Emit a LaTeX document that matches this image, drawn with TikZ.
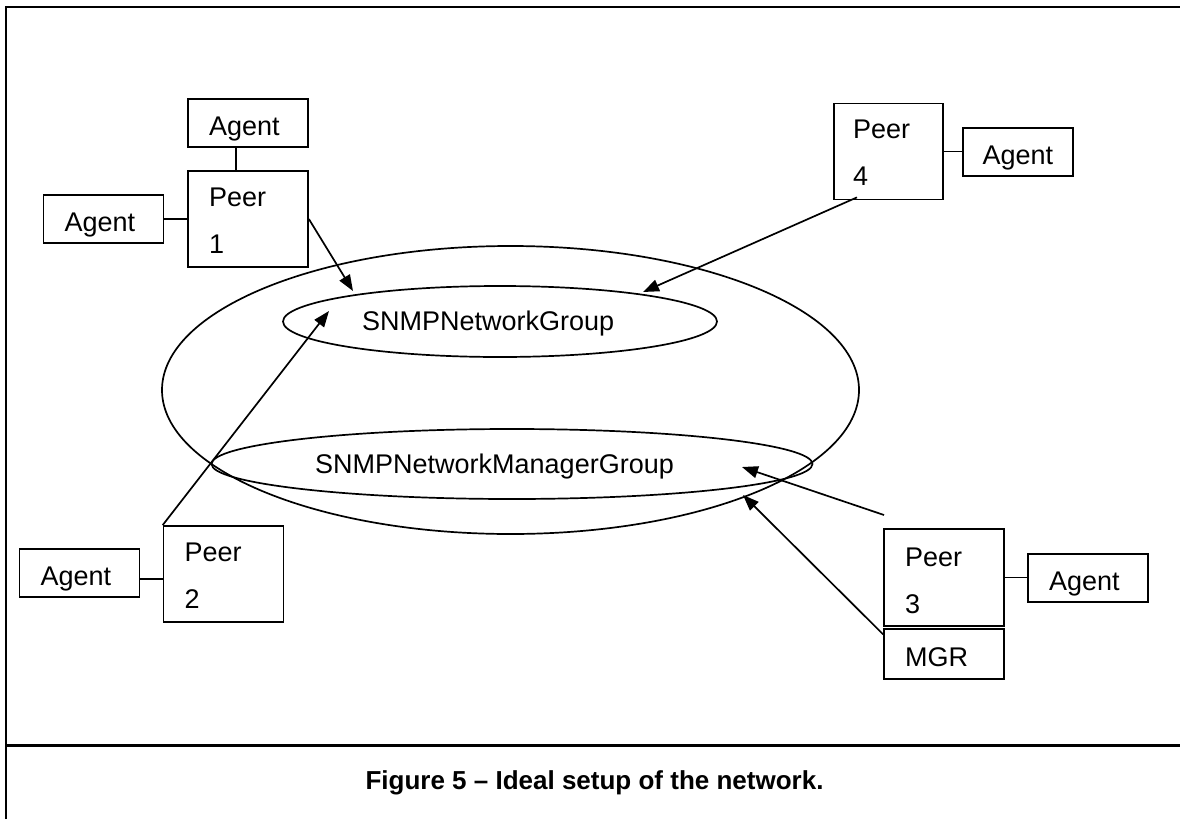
\documentclass[tikz,border=0pt]{standalone}
\usepackage{fontspec}
\setmainfont{Liberation Sans}
\usetikzlibrary{arrows.meta,shapes.geometric}

\tikzset{
  box/.style={draw, rectangle, line width=1.7pt, inner ysep=0pt, align=left,
    font=\fontsize{27}{47}\selectfont},
  agentbox/.style={box, inner xsep=21pt, text width=78pt, text height=36pt, text depth=12pt},
  peerbox/.style={box, inner xsep=21pt, text width=78pt, text height=35pt, text depth=61pt},
  mgrbox/.style={box, inner xsep=21pt, text width=78pt, text height=37pt, text depth=13pt},
  grouping/.style={draw, ellipse, line width=1.7pt, inner sep=0pt, outer sep=0pt},
  grouplabel/.style={anchor=base west, inner sep=0pt, font=\fontsize{27}{32}\selectfont},
  link/.style={line width=1.7pt},
  msg/.style={line width=1.7pt, -{Triangle[length=16pt,width=12pt]}},
}

\begin{document}
\begin{tikzpicture}[x=1pt, y=-1pt]
\useasboundingbox (0,0) rectangle (1180,819);

% frame and caption strip
\draw[line width=2.2pt] (6,819) -- (6,7) -- (1180,7);
\draw[line width=3pt] (6,745) -- (1180,745);
\node[anchor=base, font=\bfseries\fontsize{26}{30}\selectfont] (caption) at (594.5,789)
  {Figure 5 – Ideal setup of the network.};

% network and its two groups
\node[grouping, minimum width=697pt, minimum height=288pt] (net) at (510.5,390) {};
\node[grouping, minimum width=434pt, minimum height=71pt] (grp) at (500,321.5) {};
\node[grouping, minimum width=601pt, minimum height=70pt] (mgrp) at (512,464) {};
\node[grouplabel] (grptext) at (362,330) {SNMPNetworkGroup};
\node[grouplabel] (mgrptext) at (315,473) {SNMPNetworkManagerGroup};

% peers with their agents
\node[peerbox] (p1) at (248,219) {Peer\\1};
\node[agentbox] (a1top) at (248,123) {Agent};
\node[agentbox] (a1left) at (103.5,219) {Agent};

\node[peerbox, inner xsep=19pt, text width=71pt] (p4) at (888.5,151.5) {Peer\\4};
\node[agentbox, inner xsep=19.5pt, text width=71pt] (a4) at (1018,152) {Agent};

\node[peerbox] (p2) at (223.5,574) {Peer\\2};
\node[agentbox] (a2) at (79.5,573) {Agent};

\node[peerbox, text height=37pt, text depth=60pt] (p3) at (944,577.5) {Peer\\3};
\node[agentbox] (a3) at (1088,578) {Agent};
\node[mgrbox, anchor=north] (mgr) at ([yshift=-1.5pt]p3.south) {MGR};

% agent links
\draw[link] ([xshift=-12pt]a1top.south) -- ([xshift=-12pt]p1.north);
\draw[link] (a1left.east) -- (p1.west);
\draw[link] (p4.east) -- (p4.east -| a4.west);
\draw[link] ([yshift=-6pt]a2.east) -- ([yshift=-6pt]a2.east -| p2.west);
\draw[link] (p3.east) -- (p3.east -| a3.west);

% membership arrows
\coordinate (in1) at (353,291);
\coordinate (in4) at (643,292);
\coordinate (in2) at (329,311);
\coordinate (from3) at (884,515);
\coordinate (in3a) at (742,467);
\coordinate (in3b) at (743,495);

\draw[msg] (p1.east) -- (in1);
\draw[msg] ([xshift=-31.5pt, yshift=3pt]p4.south) -- (in4);
\draw[msg] (p2.north west) -- (in2);
\draw[msg] (from3) -- (in3a);
\draw[msg] ([yshift=-6pt]mgr.north west) -- (in3b);
\end{tikzpicture}
\end{document}
